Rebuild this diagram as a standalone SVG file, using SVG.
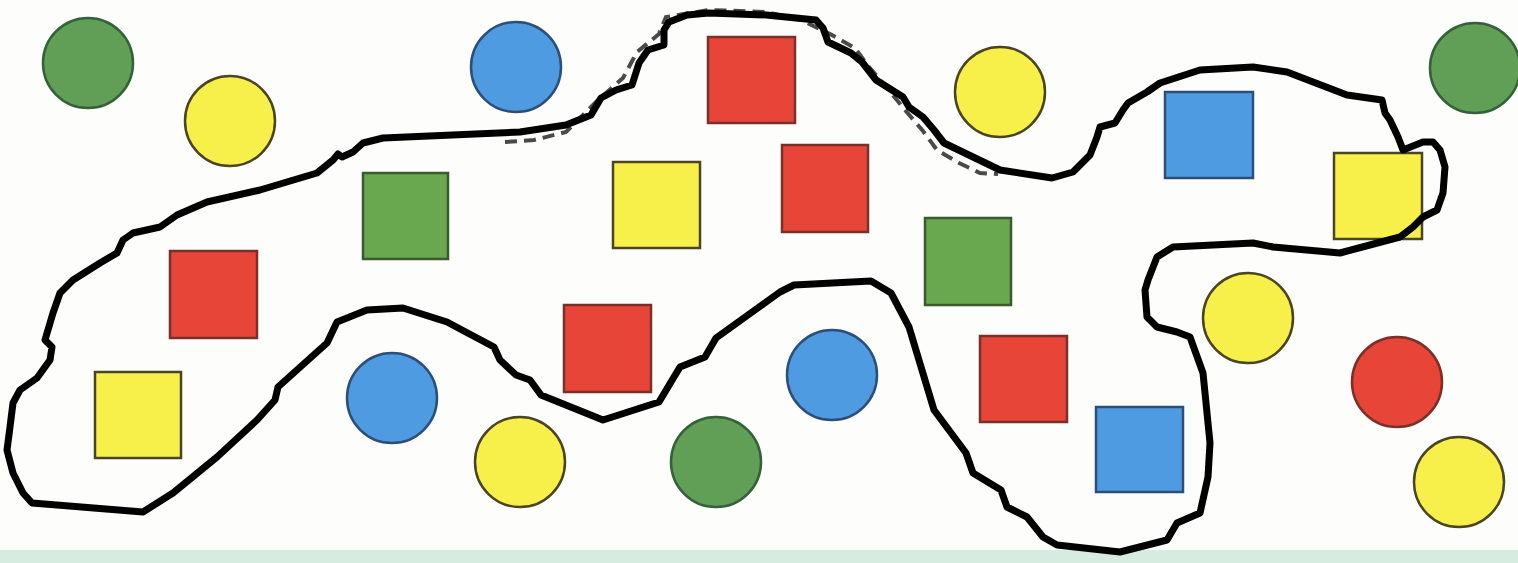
<svg xmlns="http://www.w3.org/2000/svg" width="1518" height="563" viewBox="0 0 1518 563">
<style>
.g{fill:#629f56;stroke:#34613a;stroke-width:2.5}
.gs{fill:#69a84f;stroke:#3a5a30;stroke-width:2.5}
.y{fill:#f8f04a;stroke:#4a4520;stroke-width:2.5}
.r{fill:#e64537;stroke:#7a3028;stroke-width:2.5}
.b{fill:#4e9be2;stroke:#2c4f78;stroke-width:2.5}
.outline{fill:none;stroke:#000;stroke-width:7;stroke-linejoin:round;stroke-linecap:round}
.dash{fill:none;stroke:#4a4a4a;stroke-width:4;stroke-dasharray:12 7}
</style>
<rect x="0" y="0" width="1518" height="563" fill="#fdfdfc"/>
<rect x="0" y="550" width="1518" height="13" fill="#d6ece0"/>
<g id="circles">
<circle id="c1" class="g" cx="88" cy="63" r="45"/>
<circle id="c2" class="y" cx="230" cy="121" r="45"/>
<circle id="c3" class="b" cx="516" cy="67" r="45"/>
<circle id="c4" class="y" cx="1000" cy="92" r="45"/>
<circle id="c5" class="g" cx="1475" cy="68" r="45"/>
<circle id="c6" class="b" cx="392" cy="398" r="45"/>
<circle id="c7" class="y" cx="520" cy="462" r="45"/>
<circle id="c8" class="g" cx="716" cy="462" r="45"/>
<circle id="c9" class="b" cx="832" cy="375" r="45"/>
<circle id="c10" class="y" cx="1248" cy="318" r="45"/>
<circle id="c11" class="r" cx="1397" cy="382" r="45"/>
<circle id="c12" class="y" cx="1459" cy="482" r="45"/>
</g>
<g id="squares">
<rect id="s1" class="r" x="708" y="37" width="87" height="86"/>
<rect id="s2" class="y" x="613" y="162" width="87" height="86"/>
<rect id="s3" class="r" x="782" y="145" width="86" height="87"/>
<rect id="s4" class="gs" x="363" y="173" width="85" height="86"/>
<rect id="s5" class="r" x="170" y="251" width="87" height="87"/>
<rect id="s6" class="y" x="95" y="372" width="86" height="86"/>
<rect id="s7" class="r" x="564" y="305" width="87" height="87"/>
<rect id="s8" class="gs" x="925" y="218" width="86" height="87"/>
<rect id="s9" class="r" x="980" y="336" width="87" height="86"/>
<rect id="s10" class="b" x="1096" y="407" width="87" height="85"/>
<rect id="s11" class="b" x="1165" y="92" width="88" height="86"/>
<rect id="s12" class="y" x="1334" y="153" width="88" height="86"/>
</g>
<g id="connectors">
<path class="dash" d="M505,142 L534,140 L566,132 L598,100 L623,78 L637,52 L659,34 L666,17 L709,10 L766,12 L801,20 L830,34 L855,48 L869,67 L887,88 L905,110 L923,131 L937,150 L959,163 L980,173 L998,174"/>
<path class="outline" d="M32,503 L23,493 L13,473 L7,450 L10,427 L13,403 L20,390 L37,378 L50,360 L52,347 L45,340 L53,313 L60,293 L73,280 L100,263 L117,253 L123,240 L133,233 L160,227 L177,215 L207,202 L260,190 L317,173 L333,160 L338,154 L342,157 L353,152 L363,143 L383,138 L520,132 L566,125 L591,115 L601,98 L616,90 L632,85 L639,63 L648,50 L664,45 L664,30 L669,22 L687,15 L709,13 L766,15 L816,20 L823,28 L828,42 L851,53 L862,62 L876,80 L903,97 L909,107 L923,117 L934,130 L944,143 L1000,170 L1052,178 L1073,172 L1090,155 L1097,137 L1100,127 L1115,123 L1123,110 L1128,103 L1147,92 L1160,83 L1200,70 L1253,67 L1287,72 L1347,95 L1382,100 L1385,113 L1390,120 L1398,137 L1403,150 L1423,142 L1433,142 L1440,150 L1445,167 L1443,193 L1437,210 L1423,217 L1413,227 L1400,237 L1340,253 L1273,247 L1253,243 L1173,247 L1157,257 L1148,280 L1145,290 L1147,317 L1157,327 L1177,332 L1190,337 L1203,373 L1210,443 L1208,477 L1200,513 L1177,523 L1167,540 L1120,552 L1057,545 L1043,537 L1027,517 L1007,507 L1001,490 L973,473 L966,453 L934,410 L909,327 L891,293 L871,281 L794,285 L780,292 L716,338 L705,357 L680,367 L659,402 L603,420 L541,395 L530,380 L516,375 L500,360 L494,347 L447,322 L403,308 L367,310 L337,322 L327,343 L278,387 L275,400 L257,420 L217,457 L173,493 L143,512 Z"/>
</g>
</svg>
